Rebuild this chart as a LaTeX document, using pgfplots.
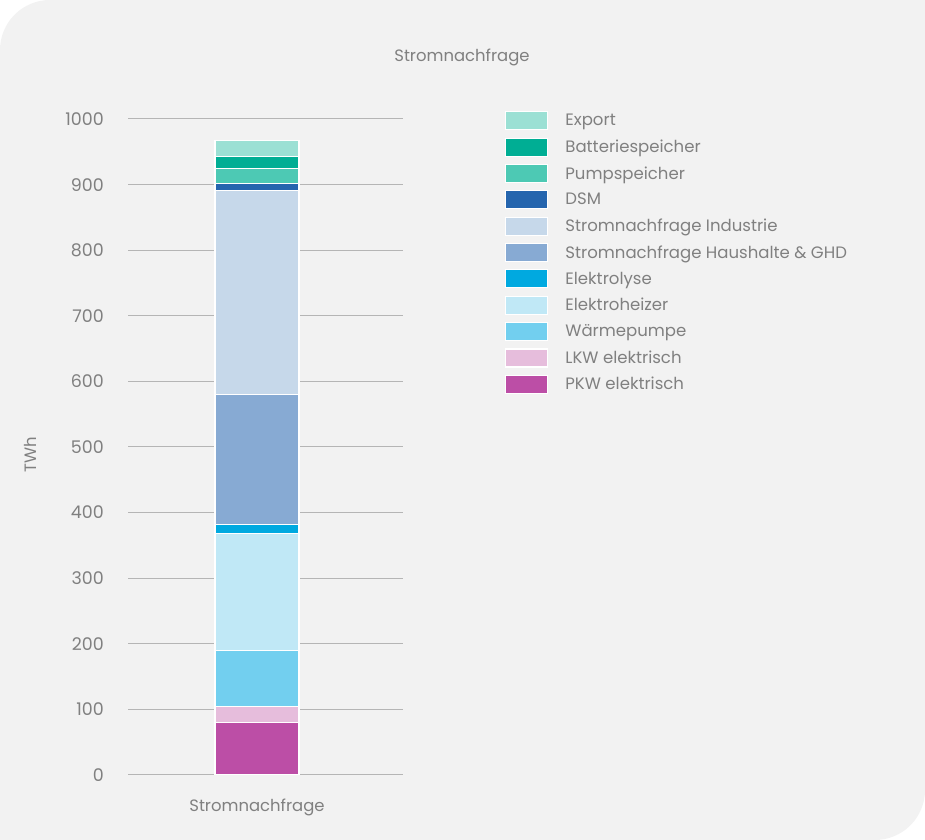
\documentclass[border=0pt]{standalone}
\usepackage{fontspec}
\setmainfont{Poppins}
\usepackage{pgfplots}
\pgfplotsset{compat=1.18}

\definecolor{bg}{HTML}{F2F2F2}
\definecolor{txt}{HTML}{808080}
\definecolor{gridc}{HTML}{B5B5B5}
\definecolor{cExport}{HTML}{9BE0D4}
\definecolor{cBatt}{HTML}{00AE94}
\definecolor{cPump}{HTML}{4DC9B4}
\definecolor{cDSM}{HTML}{2565AE}
\definecolor{cInd}{HTML}{C6D8EA}
\definecolor{cHH}{HTML}{87AAD3}
\definecolor{cElyse}{HTML}{00A9E0}
\definecolor{cHeiz}{HTML}{C0E8F6}
\definecolor{cWP}{HTML}{72CFEF}
\definecolor{cLKW}{HTML}{E6BDDC}
\definecolor{cPKW}{HTML}{BC4EA6}

\begin{document}
\begin{tikzpicture}[x=1bp,y=1bp]
% background card
\fill[bg] (0,0) -- (875,0) arc[start angle=-90,end angle=0,radius=50] -- (925,840)
  -- (50,840) arc[start angle=90,end angle=180,radius=50] -- cycle;

\node[font=\fontsize{16.5}{19}\selectfont, text=txt] at (462,783) {Stromnachfrage};
\node[font=\fontsize{16.5}{19}\selectfont, text=txt, rotate=90] at (30,385) {TWh};

\begin{axis}[
	at={(128bp,65bp)}, anchor=south west,
	scale only axis,
	width=275bp, height=656bp,
	xmin=-129, xmax=146,
	ymin=0, ymax=1000,
	ybar stacked,
	bar width=84bp,
	bar shift=0pt,
	ytick={0,100,...,1000},
	xtick={0},
	xticklabels={Stromnachfrage},
	ymajorgrids,
	grid style={gridc, line width=1bp},
	axis line style={draw=none},
	tick style={draw=none},
	major tick length=0pt,
	/pgf/number format/assume math mode=true,
	/pgf/number format/1000 sep={},
	yticklabel style={font=\fontsize{17.5}{19}\selectfont, text=txt, inner sep=0pt, xshift=-24bp},
	xticklabel style={font=\fontsize{16.5}{19}\selectfont, text=txt, inner sep=0pt, yshift=-24bp},
	legend style={
		at={(1,1)}, anchor=north west,
		xshift=102bp, yshift=8bp,
		draw=none, fill=none,
		inner sep=0pt,
		row sep=7.15bp,
		column sep=17bp,
		font=\fontsize{16.6}{19}\selectfont,
		text=txt,
		nodes={inner sep=0pt},
	},
	legend cell align=left,
	reverse legend,
	legend image code/.code={\fill[#1] (0bp,-9bp) rectangle (42bp,9bp);},
	every axis plot/.append style={draw=white, line width=1.2bp},
]
\addplot[fill=cPKW] coordinates {(0,80)};
\addplot[fill=cLKW] coordinates {(0,24)};
\addplot[fill=cWP] coordinates {(0,86)};
\addplot[fill=cHeiz] coordinates {(0,178)};
\addplot[fill=cElyse] coordinates {(0,14)};
\addplot[fill=cHH] coordinates {(0,198)};
\addplot[fill=cInd] coordinates {(0,311)};
\addplot[fill=cDSM] coordinates {(0,11)};
\addplot[fill=cPump] coordinates {(0,22)};
\addplot[fill=cBatt] coordinates {(0,19)};
\addplot[fill=cExport] coordinates {(0,24.5)};
\legend{PKW elektrisch, LKW elektrisch, Wärmepumpe, Elektroheizer, Elektrolyse,
	Stromnachfrage Haushalte \& GHD, Stromnachfrage Industrie, DSM,
	Pumpspeicher, Batteriespeicher, Export}
\end{axis}
\pgfresetboundingbox
\useasboundingbox (0,0) rectangle (925,840);
\end{tikzpicture}
\end{document}
